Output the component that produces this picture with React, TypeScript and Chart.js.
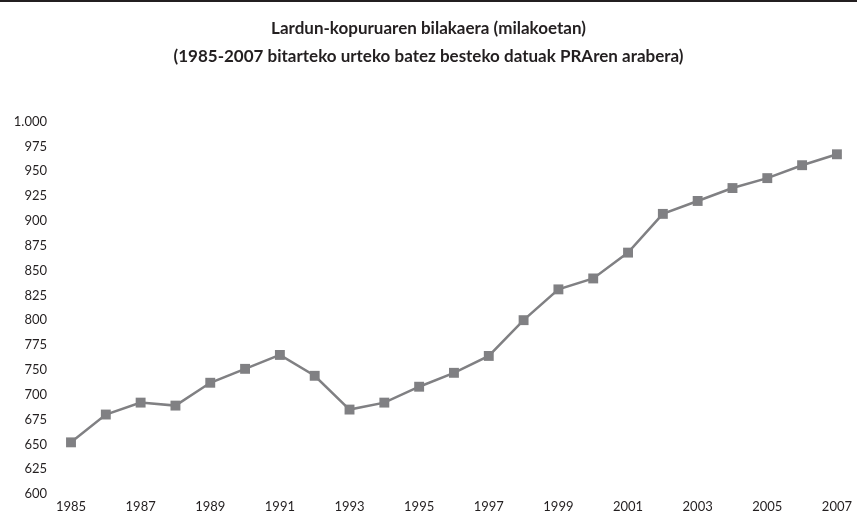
import React, { useEffect, useRef } from 'react';
import { Chart, registerables, LinearScale } from 'chart.js';

Chart.register(...registerables);

const years = [
  '1985', '1986', '1987', '1988', '1989', '1990', '1991', '1992', '1993', '1994', '1995', '1996',
  '1997', '1998', '1999', '2000', '2001', '2002', '2003', '2004', '2005', '2006', '2007',
];
const employed = [
  652, 680, 692, 689, 724, 751, 765, 738, 685, 692, 716, 744,
  764, 800, 831, 842, 868, 907, 920, 933, 943, 956, 967,
];
const yTickValues = [600, 625, 650, 675, 700, 750, 775, 800, 825, 850, 875, 900, 925, 950, 975, 1000];
const yTickLabels = ['600', '625', '650', '675', '700', '750', '775', '800', '825', '850', '875', '900', '925', '950', '975', '1.000'];
const titleLines = [
  'Lardun-kopuruaren bilakaera (milakoetan)',
  '(1985-2007 bitarteko urteko batez besteko datuak PRAren arabera)',
];

const INK = '#231f20';
const LINE = '#808083';
const FONT = "Lato, 'Open Sans', sans-serif";

function valueToIndex(v: number): number {
  const t = yTickValues;
  const n = t.length;
  if (v <= t[0]) return (v - t[0]) / (t[1] - t[0]);
  for (let i = 0; i < n - 1; i++) {
    if (v <= t[i + 1]) return i + (v - t[i]) / (t[i + 1] - t[i]);
  }
  return n - 1 + (v - t[n - 1]) / (t[n - 1] - t[n - 2]);
}

function indexToValue(idx: number): number {
  const t = yTickValues;
  const n = t.length;
  const i = Math.max(0, Math.min(n - 2, Math.floor(idx)));
  return t[i] + (idx - i) * (t[i + 1] - t[i]);
}

class LabelStepScale extends (LinearScale as any) {
  static id = 'labelstep';
  static defaults = (LinearScale as any).defaults;
  determineDataLimits() {
    (this as any).min = yTickValues[0];
    (this as any).max = yTickValues[yTickValues.length - 1];
  }
  buildTicks() {
    return yTickValues.map((v) => ({ value: v }));
  }
  getPixelForValue(v: any) {
    if (v === null || v === undefined || isNaN(v)) return NaN;
    return (this as any).getPixelForDecimal(valueToIndex(+v) / (yTickValues.length - 1));
  }
  getValueForPixel(p: number) {
    return indexToValue((this as any).getDecimalForPixel(p) * (yTickValues.length - 1));
  }
}

Chart.register(LabelStepScale as any);

export default function App() {
  const ref = useRef<HTMLCanvasElement | null>(null);

  useEffect(() => {
    if (!ref.current) return;
    const chart = new Chart(ref.current, {
      type: 'line',
      data: {
        labels: years,
        datasets: [
          {
            data: employed,
            borderColor: LINE,
            backgroundColor: LINE,
            borderWidth: 2.5,
            tension: 0,
            pointStyle: 'rect',
            pointRadius: 7,
            pointBorderWidth: 0,
            pointBackgroundColor: LINE,
            clip: false as any,
          },
        ],
      },
      options: {
        responsive: false,
        animation: false,
        layout: { padding: { left: 0, right: 0, top: 0, bottom: 0 } },
        plugins: {
          legend: { display: false },
          tooltip: { enabled: false },
          title: {
            display: true,
            text: titleLines,
            color: INK,
            font: { family: FONT, size: 17, weight: 'bold', lineHeight: '28px' as any },
            padding: { top: 15, bottom: 50.5 },
          },
        },
        scales: {
          x: {
            type: 'category',
            offset: false,
            grid: { display: false, drawTicks: false },
            border: { display: false },
            ticks: {
              autoSkip: false,
              maxRotation: 0,
              padding: 5,
              color: INK,
              font: { family: FONT, size: 13 },
              callback: (_v: any, i: number) => (i % 2 === 0 ? years[i] : ''),
            },
            afterFit: (s: any) => {
              s.height = 22;
            },
          },
          y: {
            type: 'labelstep' as any,
            position: 'left',
            grid: { display: false, drawTicks: true, tickLength: 24 },
            border: { display: false },
            ticks: {
              padding: 0,
              color: INK,
              font: { family: FONT, size: 13 },
              callback: (_v: any, i: number) => yTickLabels[i],
            },
            afterFit: (s: any) => {
              s.width = 71;
            },
          } as any,
          yRight: {
            type: 'linear',
            position: 'right',
            grid: { display: false, drawTicks: false },
            border: { display: false },
            ticks: { display: false, padding: 0 },
            afterFit: (s: any) => {
              s.width = 19;
            },
          } as any,
        },
      },
    });
    return () => chart.destroy();
  }, []);

  return (
    <div style={{ position: 'fixed', left: 0, top: 0, width: 857, height: 516, background: '#fff' }}>
      <div style={{ position: 'absolute', left: 0, top: 0, width: 857, height: 1.5, background: INK }} />
      <canvas ref={ref} width={857} height={516} style={{ display: 'block', width: 857, height: 516 }} />
    </div>
  );
}
